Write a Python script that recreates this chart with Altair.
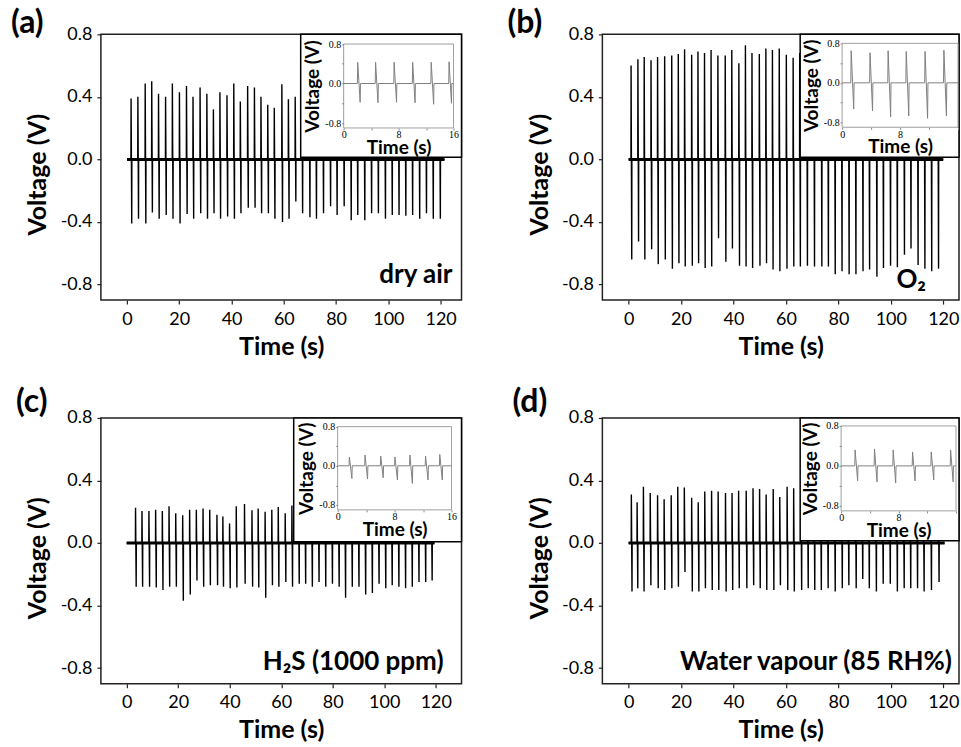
import altair as alt
import pandas as pd

# ---------------- data ----------------
# (a) dry air
a_time = [1.5, 4.1, 6.9, 9.4, 12.0, 14.7, 17.3, 20.0, 22.7, 25.2, 27.9, 30.5, 33.0, 35.5, 38.2,
          40.8, 43.3, 46.1, 48.7, 51.2, 53.8, 56.3, 59.2, 61.7, 64.3, 66.9, 69.7, 72.2, 74.9, 77.6,
          80.1, 82.8, 85.5, 88.0, 90.7, 93.3, 95.9, 98.6, 101.2, 103.8, 106.4, 109.0, 111.7, 114.3,
          116.9, 119.6]
a_pos = [0.39, 0.40, 0.485, 0.50, 0.42, 0.40, 0.485, 0.43, 0.47, 0.40, 0.46, 0.42, 0.32, 0.43, 0.41,
         0.485, 0.37, 0.47, 0.46, 0.40, 0.35, 0.33, 0.48, 0.385, 0.40, 0.42, 0.44, 0.41, 0.43, 0.40,
         0.42, 0.44, 0.41, 0.43, 0.42, 0.40, 0.43, 0.41, 0.44, 0.42, 0.40, 0.43, 0.42, 0.41, 0.43, 0.42]
a_neg = [-0.41, -0.38, -0.41, -0.34, -0.38, -0.355, -0.38, -0.41, -0.35, -0.38, -0.345, -0.38, -0.345,
         -0.38, -0.365, -0.38, -0.345, -0.31, -0.31, -0.345, -0.345, -0.38, -0.40, -0.38, -0.27, -0.345,
         -0.37, -0.38, -0.345, -0.30, -0.355, -0.30, -0.39, -0.355, -0.39, -0.345, -0.345, -0.38, -0.355,
         -0.355, -0.36, -0.355, -0.38, -0.345, -0.38, -0.38]
a_record = [0.0, 121.5]
a_in_time = [2.0, 4.6, 7.3, 10.0, 12.7, 15.3]
a_in_pos = [0.43, 0.43, 0.43, 0.43, 0.43, 0.44]
a_in_neg = [-0.38, -0.39, -0.38, -0.39, -0.42, -0.40]

# (b) O2
b_time = [0.9, 3.5, 5.9, 8.5, 11.0, 13.7, 16.4, 18.9, 21.3, 24.0, 26.4, 28.9, 31.4, 34.0, 36.8,
          39.3, 42.0, 44.5, 47.0, 49.8, 52.3, 54.8, 57.4, 60.1, 62.7, 65.2, 67.9, 70.6, 73.4, 75.9,
          78.5, 81.1, 83.8, 86.4, 89.1, 91.6, 94.4, 96.9, 99.6, 102.2, 104.9, 107.4, 110.1, 112.7,
          115.3, 117.9]
b_pos = [0.60, 0.64, 0.655, 0.635, 0.655, 0.66, 0.665, 0.675, 0.705, 0.67, 0.69, 0.68, 0.70, 0.665,
         0.665, 0.70, 0.615, 0.73, 0.68, 0.675, 0.71, 0.70, 0.71, 0.67, 0.65, 0.68, 0.70, 0.69, 0.67,
         0.70, 0.71, 0.69, 0.68, 0.70, 0.72, 0.69, 0.70, 0.68, 0.71, 0.69, 0.70, 0.67, 0.69, 0.70, 0.68, 0.69]
b_neg = [-0.64, -0.525, -0.64, -0.575, -0.67, -0.64, -0.70, -0.665, -0.685, -0.68, -0.665, -0.695,
         -0.685, -0.505, -0.655, -0.57, -0.68, -0.685, -0.695, -0.68, -0.665, -0.705, -0.715, -0.70,
         -0.685, -0.685, -0.68, -0.685, -0.685, -0.685, -0.735, -0.715, -0.735, -0.735, -0.715, -0.705,
         -0.75, -0.695, -0.68, -0.69, -0.61, -0.57, -0.675, -0.70, -0.715, -0.70]
b_record = [0.0, 120.0]
b_in_time = [1.2, 3.8, 6.3, 8.8, 11.4, 14.0]
b_in_pos = [0.65, 0.61, 0.65, 0.635, 0.635, 0.66]
b_in_neg = [-0.53, -0.57, -0.69, -0.67, -0.72, -0.67]

# (c) H2S (1000 ppm)
c_time = [3.4, 5.9, 8.6, 11.2, 13.8, 16.4, 19.0, 21.7, 24.4, 27.0, 29.6, 32.2, 35.0, 37.3, 39.9,
          42.5, 45.7, 48.6, 51.0, 53.7, 56.3, 58.8, 61.5, 64.1, 66.7, 69.2, 71.8, 74.4, 77.0, 79.6,
          82.2, 84.7, 87.3, 89.9, 92.5, 95.1, 97.7, 100.3, 102.8, 105.4, 108.0, 110.6, 113.2, 115.8, 118.3]
c_pos = [0.226, 0.205, 0.205, 0.213, 0.205, 0.235, 0.19, 0.177, 0.213, 0.213, 0.22, 0.213, 0.18, 0.17,
         0.125, 0.235, 0.25, 0.21, 0.22, 0.20, 0.213, 0.23, 0.19, 0.24, 0.21, 0.22, 0.20, 0.21, 0.22,
         0.21, 0.20, 0.22, 0.21, 0.21, 0.20, 0.22, 0.21, 0.20, 0.21, 0.22, 0.21, 0.20, 0.21, 0.22, 0.21]
c_neg = [-0.28, -0.28, -0.28, -0.285, -0.30, -0.28, -0.28, -0.37, -0.33, -0.24, -0.28, -0.27, -0.27,
         -0.28, -0.29, -0.285, -0.26, -0.28, -0.285, -0.35, -0.27, -0.28, -0.25, -0.28, -0.26, -0.26,
         -0.28, -0.25, -0.28, -0.26, -0.28, -0.35, -0.28, -0.28, -0.33, -0.32, -0.26, -0.29, -0.27,
         -0.28, -0.29, -0.28, -0.25, -0.25, -0.24]
c_record = [0.0, 119.5]
c_in_time = [1.6, 3.8, 6.0, 8.0, 10.1, 12.3, 14.3]
c_in_pos = [0.18, 0.22, 0.20, 0.18, 0.22, 0.20, 0.23]
c_in_neg = [-0.26, -0.27, -0.245, -0.29, -0.36, -0.29, -0.29]

# (d) water vapour (85 RH%)
d_time = [1.0, 3.2, 5.6, 8.2, 11.0, 13.5, 16.2, 18.7, 21.2, 24.0, 26.5, 29.0, 31.6, 34.1, 36.9,
          39.4, 41.9, 44.8, 47.4, 49.9, 52.4, 55.1, 57.6, 60.4, 62.9, 65.7, 68.2, 70.7, 73.2, 75.8,
          78.5, 81.2, 83.7, 86.5, 89.0, 91.5, 94.2, 96.8, 99.5, 102.2, 104.8, 107.3, 109.9, 112.4,
          115.2, 118.1]
d_pos = [0.31, 0.26, 0.36, 0.32, 0.305, 0.28, 0.305, 0.36, 0.355, 0.29, 0.26, 0.33, 0.335, 0.33, 0.32,
         0.32, 0.335, 0.335, 0.35, 0.345, 0.31, 0.345, 0.295, 0.36, 0.35, 0.33, 0.32, 0.34, 0.33, 0.31,
         0.33, 0.34, 0.32, 0.33, 0.32, 0.34, 0.33, 0.31, 0.33, 0.32, 0.34, 0.33, 0.32, 0.33, 0.31, 0.32]
d_neg = [-0.31, -0.29, -0.31, -0.27, -0.29, -0.30, -0.29, -0.28, -0.185, -0.31, -0.31, -0.29, -0.30,
         -0.30, -0.31, -0.30, -0.29, -0.29, -0.27, -0.29, -0.30, -0.30, -0.27, -0.30, -0.31, -0.30,
         -0.29, -0.30, -0.30, -0.29, -0.31, -0.29, -0.27, -0.29, -0.23, -0.29, -0.31, -0.26, -0.26,
         -0.31, -0.29, -0.29, -0.29, -0.31, -0.30, -0.25]
d_record = [0.0, 120.5]
d_in_time = [1.9, 4.6, 7.2, 9.9, 12.5, 15.2]
d_in_pos = [0.32, 0.34, 0.32, 0.28, 0.28, 0.32]
d_in_neg = [-0.30, -0.32, -0.34, -0.30, -0.28, -0.32]

panel_labels = ["(a)", "(b)", "(c)", "(d)"]
notes = ["dry air", "O₂", "H₂S (1000 ppm)", "Water vapour (85 RH%)"]
main_x_ticks = [0, 10, 20, 30, 40, 50, 60, 70, 80, 90, 100, 110, 120]
main_y_ticks = [-0.8, -0.6, -0.4, -0.2, 0.0, 0.2, 0.4, 0.6, 0.8]
inset_x_ticks = [0, 4, 8, 12, 16]
inset_y_ticks = [-0.8, -0.4, 0.0, 0.4, 0.8]
V_DOMAIN = [-0.9, 0.8]
T_INSET = [0, 16]

H = 266
FONT = "Lato"


def waveform(times, pos, neg, rec, rise, gap):
    """Bipolar pulses: up to the positive peak, down to the negative peak, back to 0."""
    rows = [(rec[0], 0.0)]
    for t, p, n in zip(times, pos, neg):
        rows += [(t, 0.0), (t + rise, p), (t + rise + gap, n), (t + 2 * rise + gap, 0.0)]
    rows.append((rec[1], 0.0))
    return pd.DataFrame(rows, columns=["t", "v"])


def panel(times, pos, neg, rec, in_t, in_p, in_n, *, width, xdom, box_x0, box_y1,
          inner, label, label_xy, note, note_xy, inset_last_label):
    ix0, ix1, iy0, iy1 = inner
    xs = alt.Scale(domain=xdom, nice=False, zero=False)
    ys = alt.Scale(domain=V_DOMAIN, nice=False, zero=False)
    xaxis = alt.Axis(values=main_x_ticks, labelExpr="datum.value % 20 === 0 ? datum.label : ''",
                     title="Time (s)", grid=False, domain=False, tickSize=4, tickColor="#222",
                     tickWidth=1.2, labelFont=FONT, labelFontSize=18, labelColor="black",
                     labelPadding=6, labelFlush=False, titleFont=FONT, titleFontSize=25,
                     titleFontWeight="bold", titleColor="black", titleY=54,
                     titleBaseline="alphabetic")
    yaxis = alt.Axis(values=main_y_ticks, format=".1f",
                     labelExpr="abs(datum.value * 10 % 4) < 0.01 ? replace(datum.label, '−', '-') : ''",
                     title="Voltage (V)", grid=False, domain=False, tickSize=4, tickColor="#222",
                     tickWidth=1.2, labelFont=FONT, labelFontSize=18, labelColor="black",
                     labelPadding=5, labelFlush=False, titleFont=FONT, titleFontSize=25,
                     titleFontWeight="bold", titleColor="black", titleX=-55, titleY=140,
                     titleBaseline="alphabetic")
    main_df = waveform(times, pos, neg, rec, 0.05, 0.25)
    line = alt.Chart(main_df).mark_line(color="black", strokeWidth=1.4).encode(
        x=alt.X("t:Q", scale=xs, axis=xaxis), y=alt.Y("v:Q", scale=ys, axis=yaxis))
    base_df = pd.DataFrame({"t0": [rec[0]], "t1": [rec[1]], "v": [0.0]})
    base = alt.Chart(base_df).mark_rule(color="black", strokeWidth=3).encode(
        x=alt.X("t0:Q", scale=xs), x2="t1:Q", y=alt.Y("v:Q", scale=ys))
    main = alt.layer(line, base)

    one = pd.DataFrame({"k": [0]})
    box = alt.Chart(one).mark_rect(fill="white", stroke="black", strokeWidth=1.5).encode(
        x=alt.value(box_x0), x2=alt.value(width), y=alt.value(0), y2=alt.value(box_y1))
    frame = alt.Chart(one).mark_rect(fill="white", stroke="#a0a0a0", strokeWidth=1).encode(
        x=alt.value(ix0), x2=alt.value(min(ix1, width)), y=alt.value(iy0), y2=alt.value(iy1))
    ixs = alt.Scale(domain=T_INSET, range=[ix0, ix1], nice=False, zero=False)
    iys = alt.Scale(domain=V_DOMAIN, range=[iy1, iy0], nice=False, zero=False)
    lab_x = "datum.value % 8 === 0 && datum.value <= " + str(inset_last_label) + " ? datum.label : ''"
    ixaxis = alt.Axis(orient="bottom", offset=iy1 - H, values=inset_x_ticks, labelExpr=lab_x,
                      grid=False, domain=False, tickSize=2, tickColor="#888", labelFont="Liberation Serif",
                      labelFontSize=10, labelColor="black", labelPadding=0, labelFlush=False,
                      title="Time (s)", titleFont=FONT, titleFontSize=19, titleFontWeight="bold",
                      titleColor="black", titleY=25.5, titleBaseline="alphabetic", zindex=2)
    iyaxis = alt.Axis(orient="left", offset=-ix0, values=inset_y_ticks, format=".1f",
                      labelExpr="(abs(datum.value) > 0.5 || datum.value == 0) ? replace(datum.label, '−', '-') : ''",
                      grid=False, domain=False, tickSize=2, tickColor="#888", labelFont="Liberation Serif",
                      labelFontSize=10, labelColor="black", labelPadding=1, labelFlush=False,
                      title="Voltage (V)", titleFont=FONT, titleFontSize=19, titleFontWeight="bold",
                      titleColor="black", titlePadding=2, zindex=2)
    in_df = waveform(in_t, in_p, in_n, T_INSET, 0.05, 0.35)
    in_line = alt.Chart(in_df).mark_line(color="#808080", strokeWidth=1).encode(
        x=alt.X("t:Q", scale=ixs, axis=ixaxis), y=alt.Y("v:Q", scale=iys, axis=iyaxis))
    lab = alt.Chart(one).mark_text(text=label, font=FONT, fontSize=32, fontWeight="bold",
                                   align="left", baseline="top", color="black").encode(
        x=alt.value(label_xy[0]), y=alt.value(label_xy[1]))
    nt = alt.Chart(one).mark_text(text=note, font=FONT, fontSize=26, fontWeight="bold",
                                  align="right", baseline="alphabetic", color="black").encode(
        x=alt.value(note_xy[0]), y=alt.value(note_xy[1]))
    inset = alt.layer(box, frame, in_line, lab, nt)
    return alt.layer(main, inset).resolve_scale(x="independent", y="independent").properties(
        width=width, height=H)


pa = panel(a_time, a_pos, a_neg, a_record, a_in_time, a_in_pos, a_in_neg, width=361,
           xdom=[-10, 128], box_x0=200, box_y1=123, inner=(243, 353, 9.7, 93.7),
           label=panel_labels[0], label_xy=(-90, -26), note=notes[0], note_xy=(352, 249),
           inset_last_label=16)
pb = panel(b_time, b_pos, b_neg, b_record, b_in_time, b_in_pos, b_in_neg, width=357,
           xdom=[-10, 126], box_x0=198, box_y1=123, inner=(240, 356, 9, 93),
           label=panel_labels[1], label_xy=(-95, -26), note=notes[1], note_xy=(324, 254),
           inset_last_label=8)
pc = panel(c_time, c_pos, c_neg, c_record, c_in_time, c_in_pos, c_in_neg, width=361,
           xdom=[-10, 130], box_x0=193, box_y1=124, inner=(237, 351, 8.7, 92),
           label=panel_labels[2], label_xy=(-85, -31), note=notes[2], note_xy=(343, 252),
           inset_last_label=16)
pd_ = panel(d_time, d_pos, d_neg, d_record, d_in_time, d_in_pos, d_in_neg, width=357,
            xdom=[-10, 126], box_x0=198, box_y1=123, inner=(239, 354, 8, 93),
            label=panel_labels[3], label_xy=(-90, -31), note=notes[3], note_xy=(350, 252),
            inset_last_label=8)

chart = alt.concat(pa, pb, pc, pd_, columns=2, spacing=alt.RowColnumber(row=118, column=141),
                   bounds="flush").properties(
    padding={"left": 10, "top": 6, "right": 0, "bottom": 0}
).configure(font=FONT, background="white").configure_view(stroke="#222", strokeWidth=1.5)

chart.save("out.html", embed_options={"renderer": "svg", "actions": False})
